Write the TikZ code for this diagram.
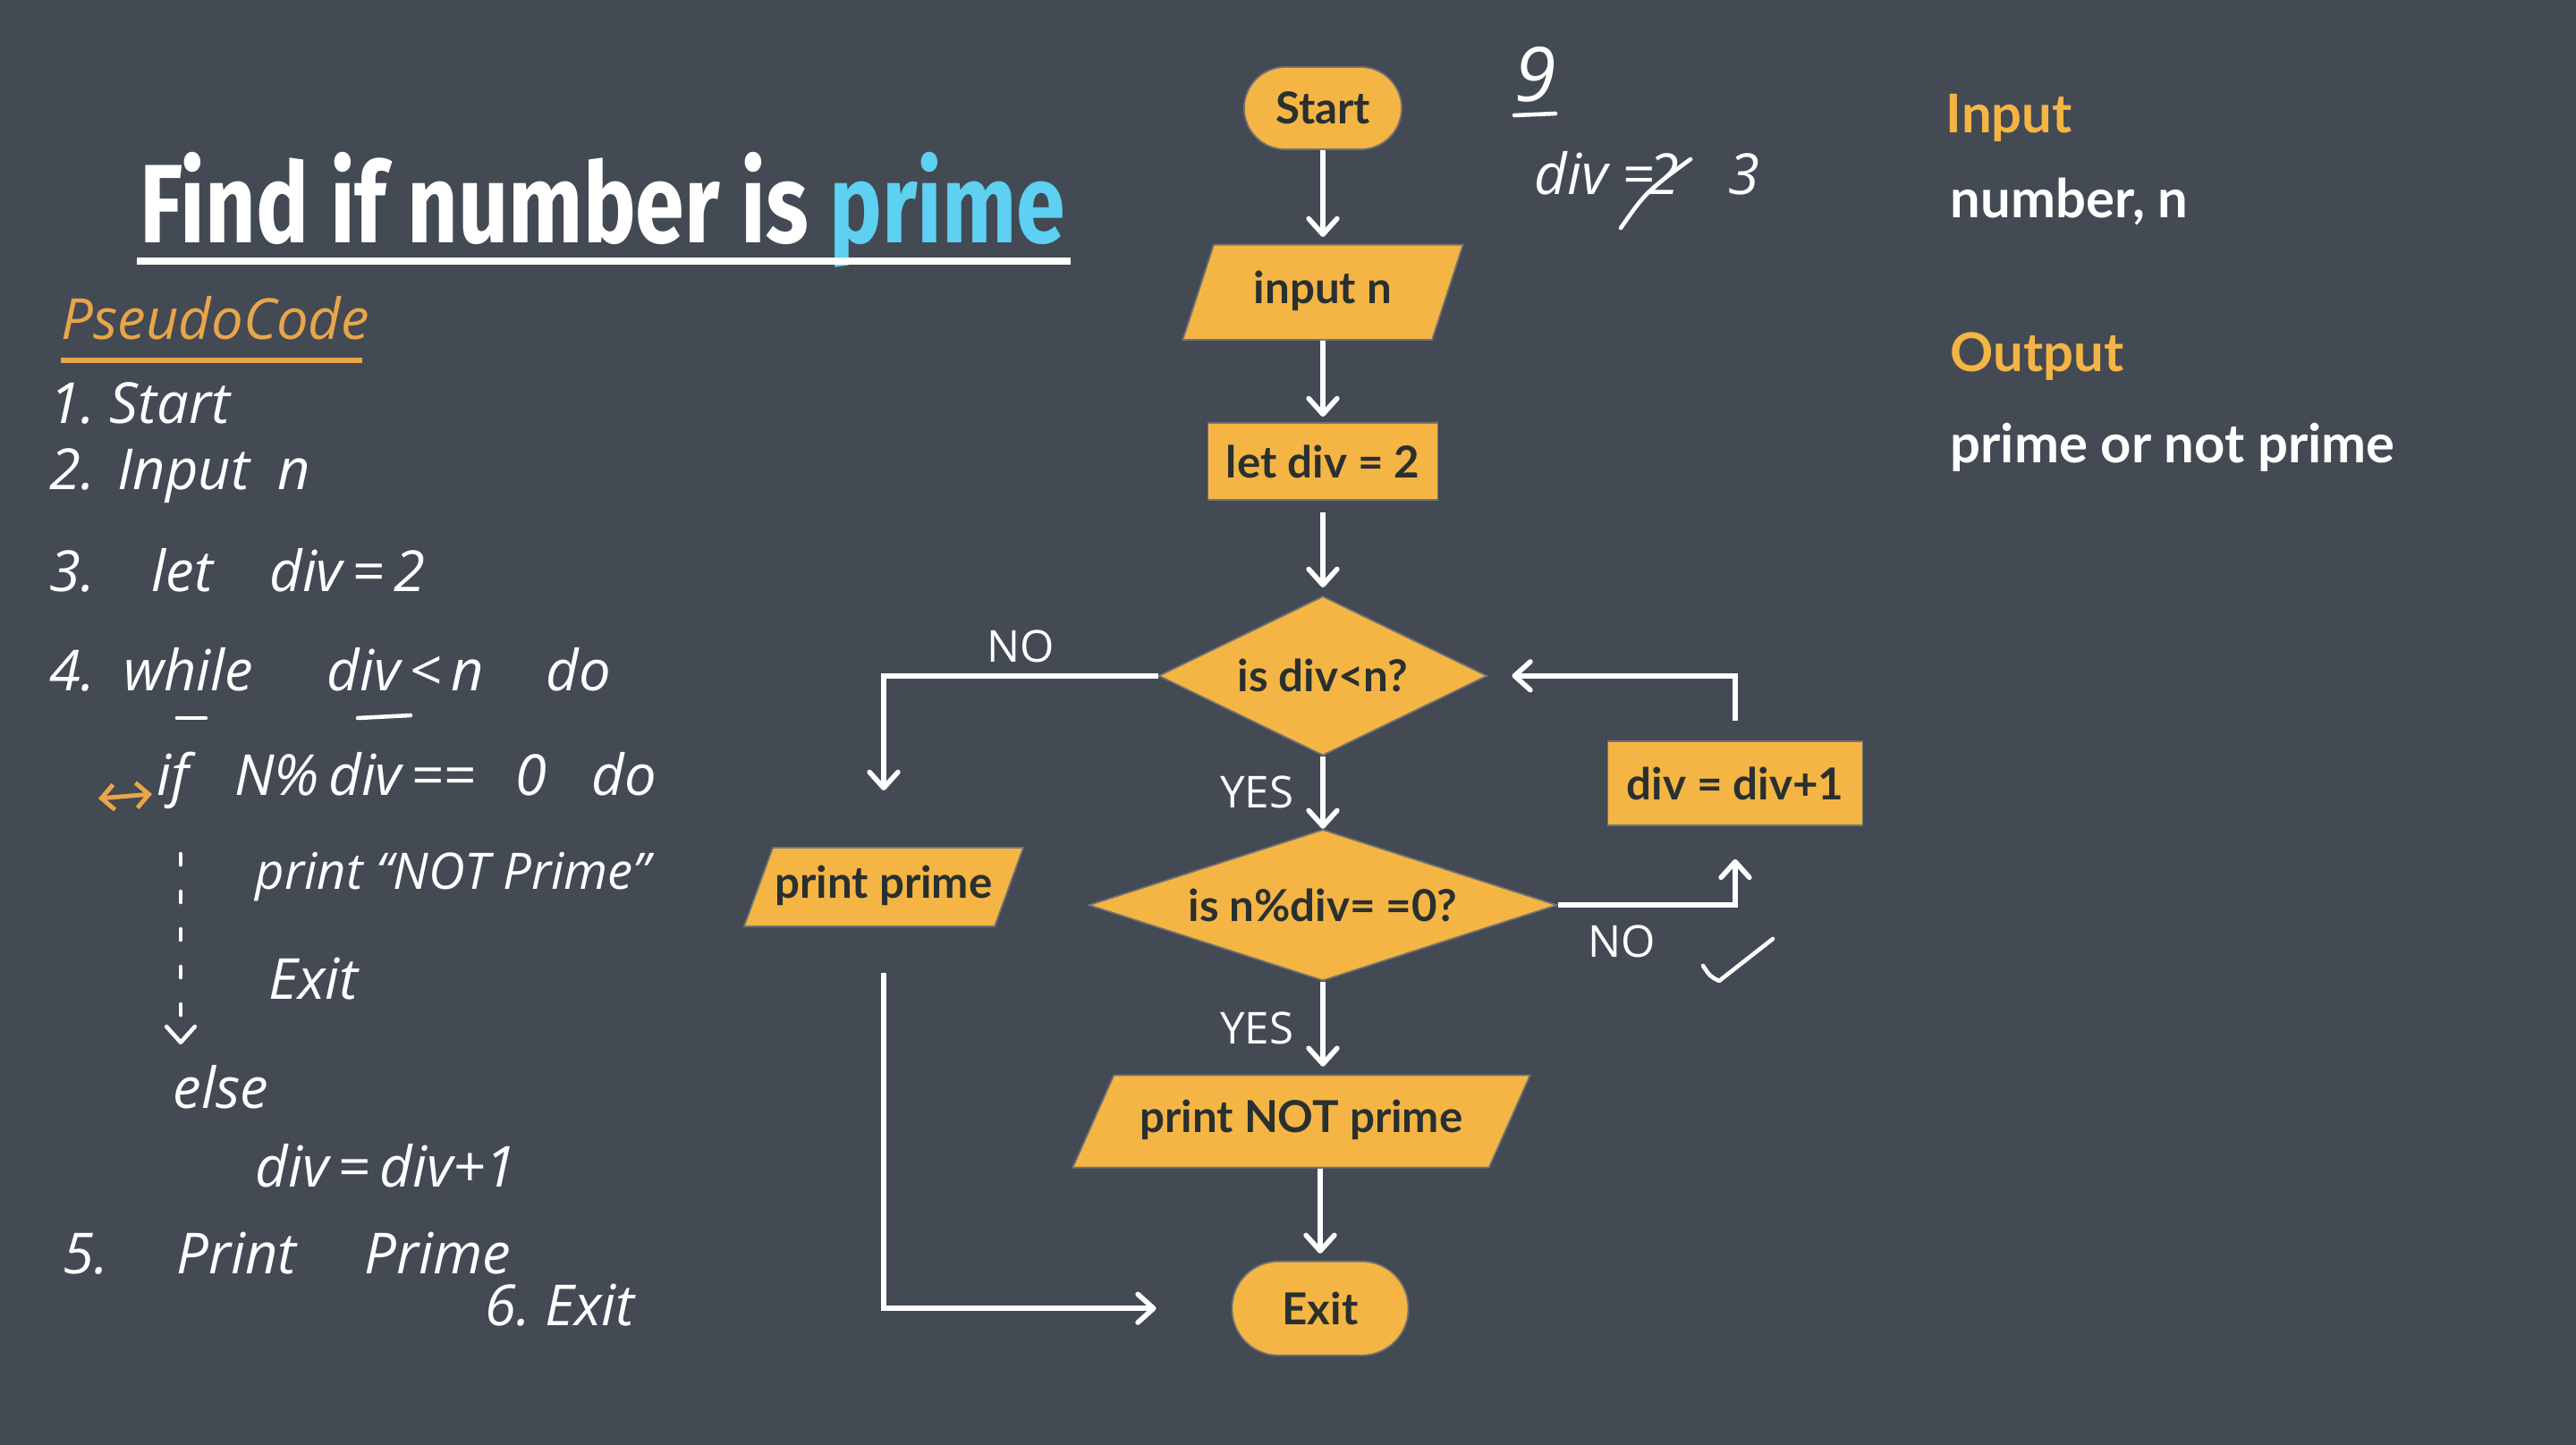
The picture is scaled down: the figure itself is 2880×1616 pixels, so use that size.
\documentclass[tikz,border=0pt]{standalone}
\usepackage{fontspec}
\setmainfont{Lato}
\newfontfamily\titlefont{Fira Sans}[FakeStretch=0.79]
\newfontfamily\handfont{Open Sans}
\usetikzlibrary{positioning,arrows.meta,shapes.geometric,calc}
\definecolor{slate}{HTML}{434A54}
\definecolor{boxfill}{HTML}{F4B544}
\definecolor{boxtext}{HTML}{29302F}
\definecolor{inkorange}{HTML}{E8A64A}
\definecolor{skyblue}{HTML}{5ED0F2}

\begin{document}
\begin{tikzpicture}[
  x=0.01cm, y=-0.01cm,
  >={Straight Barb[length=5pt,width=9pt,round]},
  box/.style={draw=black!55, line width=0.5pt, fill=boxfill, text=boxtext, font=\fontsize{14}{16}\selectfont\bfseries, align=center, inner sep=0pt},
  term/.style={box, rounded corners=0.46cm, minimum height=0.92cm},
  proc/.style={box, rectangle},
  io/.style={box, trapezium, trapezium stretches body=true, text height=9.5pt, text depth=2.5pt},
  dec/.style={box, diamond},
  arr/.style={->, draw=white, line width=1.6pt},
  hand/.style={text=white, font=\handfont\itshape\fontsize{18}{21}\selectfont, anchor=base west, inner sep=0pt},
  yn/.style={text=white, font=\handfont\fontsize{14}{16}\selectfont, inner sep=0pt},
  side/.style={anchor=west, inner sep=0pt, font=\fontsize{17}{20}\selectfont\bfseries},
  ink/.style={draw=white, line width=1.3pt, line cap=round, line join=round}
]
  \fill[slate] (0,0) rectangle (2880,1616);

  % title
  \node[anchor=base west, inner sep=0pt, text=white, font=\titlefont\bfseries\fontsize{35.5}{40}\selectfont] (title) at (156,272) {Find if number is \textcolor{skyblue}{prime}};
  \draw[white, line width=2.2pt] ($(title.base west)+(-3,20)$) -- ($(title.base east)+(5,20)$);

  % pseudocode
  \node[hand, text=inkorange, font=\handfont\itshape\fontsize{18}{22}\selectfont] (pseudo) at (68,380) {PseudoCode};
  \draw[draw=inkorange, line width=1.8pt] (68,403) -- (405,403);
  \node[hand] (p1) at (55,474) {1.\ Start};
  \node[hand] (p2) at (55,548) {2.\hspace{0.4em}Input\hspace{0.5em}n};
  \node[hand] (p3) at (55,662) {3.\hspace{1em}let\hspace{1em}div\,=\,2};
  \node[hand] (p4) at (55,773) {4.\hspace{0.5em}while\hspace{1.3em}div\,<\,n\hspace{1.1em}do};
  \draw[ink] (198,803) -- (230,803);
  \draw[ink] (400,803) -- (459,800);
  \draw[draw=inkorange, line width=1.4pt, line cap=round, {Straight Barb[length=4pt,width=8pt]}-{Straight Barb[length=4pt,width=8pt]}] (110,893) -- (170,888);
  \node[hand] (p4a) at (175,890) {if\hspace{0.8em}N\%\,div\,==\hspace{0.7em}0\hspace{0.8em}do};
  \node[hand, font=\handfont\itshape\fontsize{16}{19}\selectfont] (p4b) at (285,995) {print “NOT Prime”};
  \node[hand] (p4c) at (300,1118) {Exit};
  \draw[ink, ->, dash pattern=on 0.12cm off 0.3cm] (202,955) -- (202,1168);
  \node[hand] (p4d) at (193,1240) {else};
  \node[hand] (p4e) at (285,1328) {div\,=\,div+1};
  \node[hand] (p5) at (70,1425) {5.\hspace{1.2em}Print\hspace{1.2em}Prime};
  \node[hand] (p6) at (542,1482) {6.\ Exit};

  % scratch notes
  \node[hand, anchor=center, font=\handfont\itshape\fontsize{24}{28}\selectfont] (nine) at (1717,83) {9};
  \draw[ink] (1693,129) -- (1739,127);
  \node[hand] (divnote) at (1715,218) {div =};
  \node[hand] (crossed) at (1842,218) {2};
  \draw[ink] (1812,255) .. controls (1840,215) .. (1890,178);
  \node[hand] (three) at (1932,218) {3};

  % flowchart
  \node[term, minimum width=1.76cm] (start) at (1479,121) {Start};
  \node[io, minimum width=3.13cm, inner ysep=0.32cm, trapezium left angle=72, trapezium right angle=108, below=1.05cm of start] (input) {input n};
  \node[proc, minimum width=2.57cm, minimum height=0.86cm, below=0.91cm of input] (init) {let div = 2};
  \node[dec, aspect=2.06, minimum width=3.67cm, minimum height=1.78cm, below=1.06cm of init] (cond1) {is div<n?};
  \node[dec, aspect=3.1, minimum width=5.23cm, minimum height=1.69cm, below=0.81cm of cond1] (cond2) {is n\%div= =0?};
  \node[io, minimum width=5.11cm, inner ysep=0.305cm, trapezium left angle=66, trapezium right angle=114, below=1.04cm of cond2, xshift=-0.24cm] (notprime) {print NOT prime};
  \node[term, minimum width=1.97cm, minimum height=1.05cm, rounded corners=0.52cm, below=1.03cm of notprime, xshift=0.21cm] (exit) {Exit};
  \node[io, minimum width=3.12cm, inner ysep=0.23cm, trapezium left angle=70, trapezium right angle=110] (prime) at (988,992) {print prime};
  \node[proc, minimum width=2.85cm, minimum height=0.94cm] (incr) at (1940,876) {div = div+1};

  \draw[arr, shorten >=0.08cm] (start) -- (input);
  \draw[arr, shorten >=0.06cm] (input) -- (init);
  \draw[arr, shorten <=0.13cm, shorten >=0.09cm] (init) -- (cond1);
  \draw[arr] (cond1) -- node[yn, left=0.3cm] {YES} (cond2);
  \draw[arr, shorten >=0.09cm] (cond2.south) -- node[yn, left=0.3cm] {YES} (cond2.south |- notprime.north);
  \draw[arr, shorten >=0.08cm] (exit.north |- notprime.south) -- (exit.north);
  \draw[arr, shorten >=0.63cm] (cond1.west) -| node[yn, pos=0.25, above=0.12cm] {NO} (prime.north);
  \draw[arr, shorten >=0.37cm] (cond2.east) -| node[yn, pos=0.18, below=0.2cm] {NO} (incr.south);
  \draw[ink] (1904,1080) .. controls (1912,1092) .. (1922,1097) -- (1982,1050);
  \draw[arr, shorten <=0.22cm, shorten >=0.27cm] (incr.north) |- (cond1.east);
  \draw[arr, shorten <=0.51cm, shorten >=0.84cm] (prime.south) |- (exit.west);

  % input / output
  \node[side, text=boxfill] (inhead) at (2175,132) {Input};
  \node[side, text=white] (inval) at (2180,226) {number, n};
  \node[side, text=boxfill] (outhead) at (2180,399) {Output};
  \node[side, text=white] (outval) at (2180,500) {prime or not prime};
\end{tikzpicture}
\end{document}
